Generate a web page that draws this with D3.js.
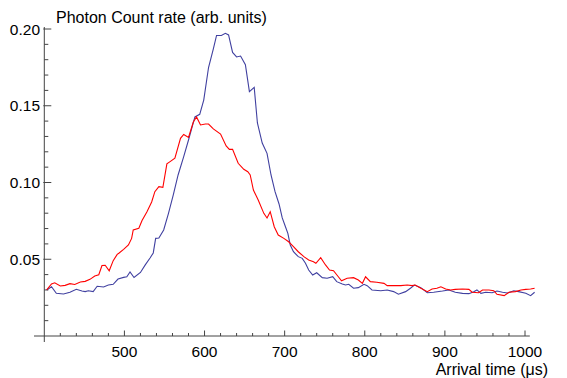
<!DOCTYPE html>
<html>
<head>
<meta charset="utf-8">
<script src="https://cdn.jsdelivr.net/npm/d3@7"></script>
<style>
  body { margin: 0; background: #fff; }
  svg text { font-family: "Liberation Sans", Arial, sans-serif; fill: #000; }
</style>
</head>
<body>
<div id="chart"></div>
<script>
// arrival time (µs) and photon count rate
var redTime = [403,409,413,420,426,432,438,445,451,457,463,468,472,476,481,486,491,493,499,505,
  509,511,518,522,528,534,538,543,548,553,557,563,570,574,580,586,590,595,601,605,
  611,620,627,631,635,642,649,654,657,661,667,674,678,682,687,692,699,705,711,717,
  724,730,736,739,745,751,756,761,767,771,778,786,792,797,801,807,815,824,828,836,
  845,853,859,863,870,878,884,890,895,901,907,913,922,930,934,942,947,955,961,965,
  974,980,988,995,1001,1007,1012];
var redRate = [0.0300,0.0339,0.0347,0.0326,0.0330,0.0341,0.0336,0.0352,0.0356,0.0369,0.0391,0.0399,0.0459,0.0461,0.0425,0.0491,0.0532,0.0539,0.0564,0.0593,
  0.0636,0.0691,0.0702,0.0752,0.0808,0.0873,0.0940,0.0973,0.0969,0.1121,0.1136,0.1158,0.1288,0.1313,0.1294,0.1394,0.1427,0.1375,0.1381,0.1381,
  0.1349,0.1316,0.1238,0.1216,0.1216,0.1125,0.1086,0.1070,0.1049,0.0951,0.0886,0.0799,0.0769,0.0810,0.0712,0.0658,0.0636,0.0614,0.0582,0.0549,
  0.0517,0.0495,0.0484,0.0474,0.0510,0.0463,0.0430,0.0425,0.0386,0.0360,0.0376,0.0380,0.0365,0.0343,0.0386,0.0354,0.0350,0.0343,0.0328,0.0328,
  0.0328,0.0332,0.0328,0.0332,0.0311,0.0289,0.0306,0.0311,0.0321,0.0306,0.0300,0.0304,0.0306,0.0304,0.0285,0.0282,0.0300,0.0300,0.0295,0.0272,
  0.0263,0.0285,0.0289,0.0300,0.0304,0.0306,0.0311];

var blueTime = [403,409,415,424,432,440,447,451,455,461,466,474,480,486,492,499,503,507,512,520,
  526,532,536,539,543,549,555,561,567,574,580,588,594,599,605,611,615,621,626,630,
  635,640,645,651,656,662,666,672,678,683,688,693,697,701,704,707,711,717,722,726,
  730,735,740,747,753,760,765,772,776,780,786,792,799,803,809,820,828,836,842,851,
  857,862,870,878,886,897,905,913,922,930,936,940,945,951,959,965,972,978,986,992,
  1001,1007,1012];
var blueRate = [0.0300,0.0321,0.0278,0.0274,0.0285,0.0304,0.0293,0.0289,0.0295,0.0289,0.0324,0.0319,0.0332,0.0337,0.0371,0.0382,0.0386,0.0417,0.0381,0.0414,
  0.0463,0.0508,0.0541,0.0636,0.0638,0.0691,0.0799,0.0919,0.1049,0.1168,0.1277,0.1427,0.1444,0.1537,0.1749,0.1870,0.1958,0.1958,0.1972,0.1961,
  0.1847,0.1818,0.1824,0.1767,0.1592,0.1620,0.1388,0.1257,0.1190,0.1049,0.0940,0.0860,0.0769,0.0712,0.0669,0.0593,0.0549,0.0517,0.0506,0.0474,
  0.0430,0.0397,0.0412,0.0380,0.0376,0.0386,0.0354,0.0339,0.0332,0.0337,0.0311,0.0315,0.0337,0.0328,0.0300,0.0295,0.0300,0.0289,0.0272,0.0289,
  0.0311,0.0332,0.0315,0.0282,0.0285,0.0293,0.0300,0.0285,0.0278,0.0276,0.0289,0.0300,0.0278,0.0285,0.0282,0.0293,0.0285,0.0280,0.0295,0.0289,
  0.0278,0.0263,0.0285];

var xTicks = [500, 600, 700, 800, 900, 1000];
var yTicks = [0.05, 0.10, 0.15, 0.20];

var svgWidth = 567;
var svgHeight = 378;

var svg = d3.select("#chart")
  .append("svg")
  .attr("width", svgWidth)
  .attr("height", svgHeight);

// scales
var x = d3.scaleLinear().domain([400, 1000]).range([44.3, 525]);
var y = d3.scaleLinear().domain([0, 0.2]).range([336, 29]);

var axisColor = "#444";

// axis lines
svg.append("line")
  .attr("x1", 34).attr("x2", x(1006))
  .attr("y1", y(0)).attr("y2", y(0))
  .attr("stroke", axisColor).attr("stroke-width", 1);
svg.append("line")
  .attr("x1", x(400)).attr("x2", x(400))
  .attr("y1", 342).attr("y2", y(0.2) - 2)
  .attr("stroke", axisColor).attr("stroke-width", 1);

// x ticks (major every 100, minor every 20)
var xMinor = d3.range(420, 1001, 20).filter(d => xTicks.indexOf(d) < 0);
svg.selectAll(".xminor").data(xMinor).enter().append("line")
  .attr("x1", d => x(d)).attr("x2", d => x(d))
  .attr("y1", y(0)).attr("y2", y(0) - 3)
  .attr("stroke", axisColor);
svg.selectAll(".xmajor").data(xTicks).enter().append("line")
  .attr("x1", d => x(d)).attr("x2", d => x(d))
  .attr("y1", y(0)).attr("y2", y(0) - 5.5)
  .attr("stroke", axisColor);
svg.selectAll(".xlabel").data(xTicks).enter().append("text")
  .attr("x", d => x(d))
  .attr("y", 357)
  .attr("text-anchor", "middle")
  .attr("font-size", 15.5)
  .text(d => d);

// y ticks (major every 0.05, minor every 0.01)
var yMinor = d3.range(1, 20).map(d => d / 100).filter(d => Math.round(d * 100) % 5 !== 0);
svg.selectAll(".yminor").data(yMinor).enter().append("line")
  .attr("x1", x(400)).attr("x2", x(400) + 4)
  .attr("y1", d => y(d)).attr("y2", d => y(d))
  .attr("stroke", axisColor);
svg.selectAll(".ymajor").data(yTicks).enter().append("line")
  .attr("x1", x(400) - 1).attr("x2", x(400) + 7)
  .attr("y1", d => y(d)).attr("y2", d => y(d))
  .attr("stroke", axisColor);
svg.selectAll(".ylabel").data(yTicks).enter().append("text")
  .attr("x", 40)
  .attr("y", d => y(d) + 5.7)
  .attr("text-anchor", "end")
  .attr("font-size", 15.5)
  .text(d => d.toFixed(2));

// curves
var line = d3.line()
  .x(d => x(d[0]))
  .y(d => y(d[1]));

var blueData = blueTime.map((t, i) => [t, blueRate[i]]);
var redData = redTime.map((t, i) => [t, redRate[i]]);

svg.append("path")
  .datum(blueData)
  .attr("d", line)
  .attr("fill", "none")
  .attr("stroke", "rgb(64,64,160)")
  .attr("stroke-width", 1.1);

svg.append("path")
  .datum(redData)
  .attr("d", line)
  .attr("fill", "none")
  .attr("stroke", "#ff0000")
  .attr("stroke-width", 1.1);

// axis titles
svg.append("text")
  .attr("x", 56)
  .attr("y", 23)
  .attr("font-size", 16)
  .text("Photon Count rate (arb. units)");

svg.append("text")
  .attr("x", 548)
  .attr("y", 375)
  .attr("text-anchor", "end")
  .attr("font-size", 16)
  .text("Arrival time (μs)");
</script>
</body>
</html>
